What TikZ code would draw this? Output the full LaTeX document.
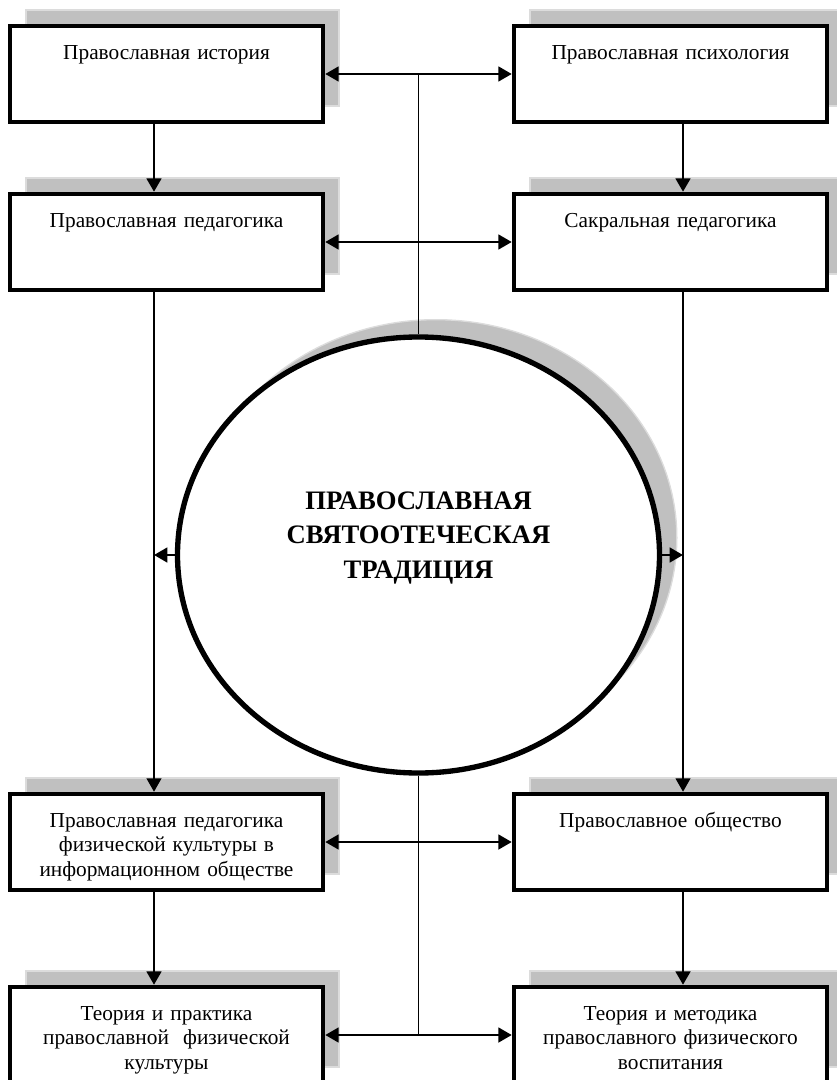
\documentclass[tikz,border=0pt]{standalone}
\usepackage{fontspec}
\setmainfont{Liberation Serif}
\usetikzlibrary{arrows.meta,shapes.geometric,shadows}
\definecolor{shadowgray}{HTML}{C0C0C0}
\definecolor{shadowedge}{HTML}{DCDCDC}

\begin{document}
\begin{tikzpicture}
[x=0.75pt,y=-0.75pt,
 boxdecorate/.style={shape=rectangle,draw,line width=3.4pt,fill=white,inner sep=0pt,
   minimum width=234.75pt,minimum height=72pt,text width=230pt,align=center,
   text height=25pt,text depth=47pt,font=\fontsize{16}{18.4}\selectfont,
   general shadow={shadow xshift=12pt,shadow yshift=12pt,fill=shadowgray,draw=shadowedge,line width=1pt}},
 ovaldecorate/.style={shape=ellipse,draw,line width=4pt,fill=white,inner sep=0pt,
   minimum width=361.5pt,minimum height=327pt,
   general shadow={shadow xshift=13pt,shadow yshift=13pt,fill=shadowgray,draw=shadowedge,line width=1pt}},
 titledecorate/.style={align=center,font=\fontsize{20}{26}\selectfont\bfseries},
 arrowdecorate/.style={-{Triangle[length=10pt,width=11pt]},line width=1.9pt},
 longdecorate/.style={-{Triangle[length=10pt,width=11pt]},line width=1.3pt},
 bothdecorate/.style={{Triangle[length=10pt,width=11pt]}-{Triangle[length=10pt,width=11pt]},line width=1.9pt},
 linedecorate/.style={-,line width=1.3pt}]
\useasboundingbox (0,0) rectangle (837,1080);
%% columns of the vertical arrows
\coordinate (colL) at (154,0);
\coordinate (colR) at (683,0);
%% boxes
\foreach \nodename/\x/\y/\boxtext in {
  hist/166.5/74/{Православная история},
  psy/670.5/74/{Православная психология},
  ped/166.5/242/{Православная педагогика},
  sak/670.5/242/{Сакральная педагогика},
  pfk/166.5/842/{Православная педагогика\\физической культуры в\\информационном обществе},
  obsh/670.5/842/{Православное общество},
  tp/166.5/1035/{Теория и практика\\православной~ физической\\культуры},
  tm/670.5/1035/{Теория и методика\\православного физического\\воспитания}} {
  \node (\nodename) at (\x,\y) [boxdecorate] {\boxtext};
}
%% central circle
\node (trad) at (418.5,555) [ovaldecorate] {};
\node (tradtext) at (418.5,538) [titledecorate] {ПРАВОСЛАВНАЯ\\СВЯТООТЕЧЕСКАЯ\\ТРАДИЦИЯ};
%% edges or lines
\draw[arrowdecorate] (hist.south -| colL) -- (ped.north -| colL);
\draw[arrowdecorate] (psy.south -| colR) -- (sak.north -| colR);
\draw[longdecorate] (ped.south -| colL) -- (pfk.north -| colL);
\draw[longdecorate] (sak.south -| colR) -- (obsh.north -| colR);
\draw[arrowdecorate] (pfk.south -| colL) -- (tp.north -| colL);
\draw[arrowdecorate] (obsh.south -| colR) -- (tm.north -| colR);
\draw[bothdecorate] (hist.east) -- (psy.west);
\draw[bothdecorate] (ped.east) -- (sak.west);
\draw[bothdecorate] (pfk.east) -- (obsh.west);
\draw[bothdecorate] (tp.east) -- (tm.west);
\draw[linedecorate] (hist.east -| trad.north) -- (trad.north);
\draw[linedecorate] (trad.south) -- (tp.east -| trad.south);
\draw[arrowdecorate] (trad.west) -- (trad.west -| colL);
\draw[arrowdecorate] (trad.east) -- (trad.east -| colR);
\end{tikzpicture}
\end{document}
